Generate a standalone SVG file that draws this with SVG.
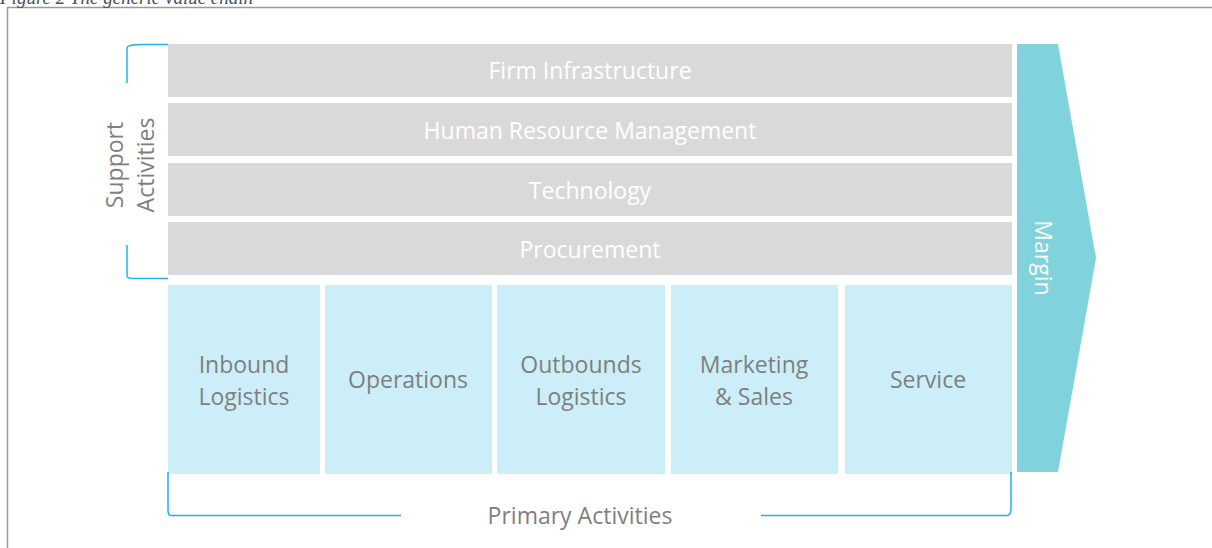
<svg xmlns="http://www.w3.org/2000/svg" width="1212" height="548" viewBox="0 0 1212 548">
<style>
.bar{fill:#d9d9d9}
.box{fill:#cceef9}
.wt{font-family:"Open Sans","Liberation Sans",sans-serif;font-size:23px;fill:#ffffff;text-anchor:middle}
.gt{font-family:"Open Sans","Liberation Sans",sans-serif;font-size:23px;fill:#7f7f7f;text-anchor:middle}
.brace{fill:none;stroke:#1fb2ea;stroke-width:1.5}
</style>
<rect width="1212" height="548" fill="#ffffff"/>
<g id="frame">
<path d="M7.5,548 V7.5 H1212" fill="none" stroke="#9a9a9a" stroke-width="1.5"/>
<text x="0" y="4" font-family="Liberation Serif,serif" font-style="italic" font-size="19" fill="#4a5060">Figure 2 The generic value chain</text>
</g>
<g id="firm-infrastructure"><rect class="bar" x="168" y="44" width="844" height="53"/><text class="wt" x="590" y="79">Firm Infrastructure</text></g>
<g id="hrm"><rect class="bar" x="168" y="103" width="844" height="53"/><text class="wt" x="590" y="139">Human Resource Management</text></g>
<g id="technology"><rect class="bar" x="168" y="163" width="844" height="53"/><text class="wt" x="590" y="199">Technology</text></g>
<g id="procurement"><rect class="bar" x="168" y="222" width="844" height="53"/><text class="wt" x="590" y="258">Procurement</text></g>
<g id="inbound"><rect class="box" x="168" y="285" width="152" height="189"/><text class="gt" x="244" y="373">Inbound</text><text class="gt" x="244" y="405">Logistics</text></g>
<g id="operations"><rect class="box" x="325" y="285" width="167" height="189"/><text class="gt" x="408" y="388">Operations</text></g>
<g id="outbound"><rect class="box" x="497" y="285" width="168" height="189"/><text class="gt" x="581" y="373">Outbounds</text><text class="gt" x="581" y="405">Logistics</text></g>
<g id="marketing"><rect class="box" x="671" y="285" width="167" height="189"/><text class="gt" x="754" y="373">Marketing</text><text class="gt" x="754" y="405">&amp; Sales</text></g>
<g id="service"><rect class="box" x="845" y="285" width="167" height="189"/><text class="gt" x="928" y="388">Service</text></g>
<g id="margin"><polygon points="1017,44 1058,44 1096,258 1058,472 1017,472" fill="#80d3dc"/><text class="wt" transform="translate(1035,258) rotate(90)" x="0" y="0">Margin</text></g>
<g id="support-label"><text class="gt" transform="translate(123,165) rotate(-90)" x="0" y="0">Support</text><text class="gt" transform="translate(154,165) rotate(-90)" x="0" y="0">Activities</text></g>
<g id="primary-label"><text class="gt" x="580" y="524">Primary Activities</text></g>
<g id="connectors">
<path class="brace" d="M168,44.5 H142 Q127,44.5 127,48 V83"/>
<path class="brace" d="M127,245 V276 Q127,278.5 135,278.5 H168"/>
<path class="brace" d="M168,472 V510 Q168,515.5 171,515.5 H401"/>
<path class="brace" d="M761,515.5 H1007 Q1011,515.5 1011,508 V472"/>
</g>
</svg>
